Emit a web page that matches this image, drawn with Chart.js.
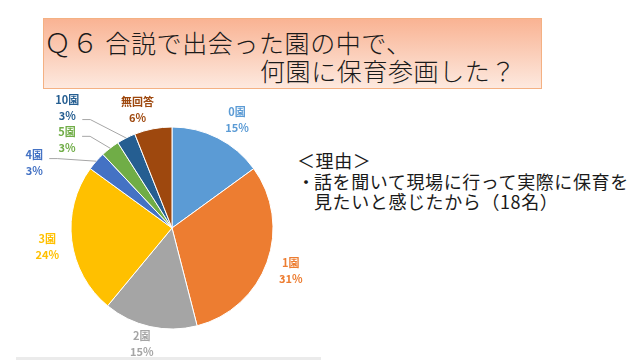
<!DOCTYPE html>
<html>
<head>
<meta charset="utf-8">
<script src="https://cdn.jsdelivr.net/npm/chart.js@4"></script>
<style>
  body { margin: 0; width: 640px; height: 360px; overflow: hidden; background: #fff; font-family: "Noto Sans CJK JP", sans-serif; }
  #titleBox { position: absolute; left: 43px; top: 18px; width: 497px; height: 69px;
    border: 1px solid #f4b183; background: linear-gradient(#f9b393, #fde9df); }
  .title { position: absolute; font-size: 25px; line-height: 28px; color: #1a1a1a; white-space: nowrap; font-weight: 300; letter-spacing: 0.6px; }
  .reason { position: absolute; font-size: 18px; color: #1a1a1a; white-space: nowrap; letter-spacing: 0.6px; }
  #bottomLine { position: absolute; left: 16px; top: 357px; width: 305px; height: 3px; background: #ebebeb; }
  canvas { position: absolute; left: 0; top: 0; }
</style>
</head>
<body>
<div id="titleBox"></div>
<div class="title" style="left:44px; top:28px;"><span style="font-size:27px">Ｑ６</span> 合説で出会った園の中で、</div>
<div class="title" style="left:260px; top:56px;">何園に保育参画した？</div>
<div class="reason" style="left:297px; top:149px; line-height:22px;">＜理由＞</div>
<div class="reason" style="left:297px; top:171px; line-height:20px;">・</div>
<div class="reason" style="left:314px; top:171px; line-height:20px;">話を聞いて現場に行って実際に保育を<br>見たいと感じたから（18名）</div>
<div id="bottomLine"></div>
<canvas id="pie" width="640" height="360"></canvas>
<script>
// 園ごとの割合 (%)
var labels = ['0園', '1園', '2園', '3園', '4園', '5園', '10園', '無回答'];
var values = [15, 31, 15, 24, 3, 3, 3, 6];
var colors = ['#5b9bd5', '#ed7d31', '#a5a5a5', '#ffc000', '#4472c4', '#70ad47', '#255e91', '#9e480e'];
var textColors = ['#5b9bd5', '#ed7d31', '#a5a5a5', '#ffc000', '#4472c4', '#70ad47', '#255e91', '#9e480e'];

// label placement: distance as a factor of the radius, angle shift in degrees
var labelDist = [1.25, 1.25, 1.19, 1.25, 1.51, 1.36, 1.58, 1.22];
var labelShift = [4, 0, 2, -1.5, -16, -12, -14, -5.4];
var leaderDy = [null, null, null, null, -4, -3, 12, null];

var pieLabels = {
  id: 'pieLabels',
  afterDatasetsDraw: function(chart) {
    var ctx = chart.ctx;
    var meta = chart.getDatasetMeta(0);
    ctx.save();
    ctx.font = 'bold 11px "Noto Sans CJK JP", sans-serif';
    ctx.textAlign = 'center';
    ctx.textBaseline = 'middle';
    meta.data.forEach(function(arc, i) {
      var p = arc.getProps(['x', 'y', 'startAngle', 'endAngle', 'outerRadius'], true);
      var mid = (p.startAngle + p.endAngle) / 2;
      var a = mid + labelShift[i] * Math.PI / 180;
      var d = p.outerRadius * labelDist[i];
      var lx = p.x + Math.cos(a) * d;
      var ly = p.y + Math.sin(a) * d;
      if (leaderDy[i] !== null) {
        var ex = p.x + Math.cos(mid) * p.outerRadius;
        var ey = p.y + Math.sin(mid) * p.outerRadius;
        var sx = lx + 15, sy = ly + leaderDy[i];
        ctx.strokeStyle = '#a6a6a6';
        ctx.lineWidth = 1;
        ctx.beginPath();
        ctx.moveTo(sx, sy);
        ctx.lineTo(sx + 8, sy);
        ctx.lineTo(ex, ey);
        ctx.stroke();
      }
      ctx.fillStyle = textColors[i];
      ctx.fillText(labels[i], lx, ly - 8);
      ctx.fillText(values[i] + '%', lx, ly + 8);
    });
    ctx.restore();
  }
};

new Chart(document.getElementById('pie'), {
  type: 'pie',
  data: {
    labels: labels,
    datasets: [{
      data: values,
      backgroundColor: colors,
      borderColor: '#ffffff',
      borderWidth: 1,
      hoverOffset: 0,
      radius: 101
    }]
  },
  options: {
    responsive: false,
    animation: false,
    events: [],
    layout: { padding: { left: 72, right: 368, top: 128, bottom: 32 } },
    plugins: { legend: { display: false }, tooltip: { enabled: false } }
  },
  plugins: [pieLabels]
});
</script>
</body>
</html>
